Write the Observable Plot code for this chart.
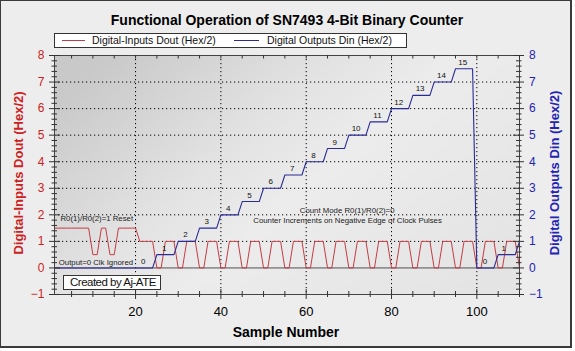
<!DOCTYPE html>
<html><head><meta charset="utf-8">
<script src="https://cdn.jsdelivr.net/npm/d3@7"></script>
<script src="https://cdn.jsdelivr.net/npm/@observablehq/plot@0.6"></script>
<style>
html,body{margin:0;padding:0;background:#fff;}
#wrap{position:relative;width:575px;height:351px;overflow:hidden;font-family:Arial,"Liberation Sans",sans-serif;}
#bgbox{position:absolute;left:0;top:0;width:569px;height:345px;border-style:solid;border-color:#3a3a3a;border-width:1px 2px 2px 1px;background:#ededed;}
#chart{position:absolute;left:0;top:0;}
.t{position:absolute;white-space:nowrap;line-height:1;}
#title{left:287px;top:13px;transform:translateX(-50%);font-weight:bold;font-size:14px;color:#000;}
#legend{left:54px;top:33px;width:351px;height:13px;border:1px solid #333;background:#fff;}
#legend .sw{position:absolute;top:6px;height:0;border-top:1px solid;}
#legend .lt{position:absolute;top:1px;font-size:10.5px;color:#111;white-space:nowrap;}
#ylabL{left:17.5px;top:173px;transform:translate(-50%,-50%) rotate(-90deg);font-weight:bold;font-size:13px;color:#cc2222;}
#ylabR{left:554px;top:173px;transform:translate(-50%,-50%) rotate(-90deg);font-weight:bold;font-size:13px;color:#2323b4;}
#xlab{left:286px;top:325px;transform:translateX(-50%);font-weight:bold;font-size:14px;color:#000;}
#credit{left:63px;top:275px;width:96px;height:13px;border:1px solid #333;background:#fff;font-size:11.5px;color:#111;}
#credit span{position:absolute;left:6px;top:1px;letter-spacing:-0.5px;}
</style>
</head><body>
<div id="wrap">
  <div id="bgbox"></div>
  <div id="chart"></div>
  <div class="t" id="title">Functional Operation of SN7493 4-Bit Binary Counter</div>
  <div class="t" id="legend">
    <span class="sw" style="left:7px;width:23px;border-color:#b8404a"></span>
    <span class="lt" style="left:37px">Digital-Inputs Dout (Hex/2)</span>
    <span class="sw" style="left:179px;width:25px;border-color:#2b2b8c"></span>
    <span class="lt" style="left:212px">Digital Outputs Din (Hex/2)</span>
  </div>
  <div class="t" id="ylabL">Digital-Inputs Dout (Hex/2)</div>
  <div class="t" id="ylabR">Digital Outputs Din (Hex/2)</div>
  <div class="t" id="xlab">Sample Number</div>
  <div class="t" id="credit"><span>Created by Aj-ATE</span></div>
</div>
<script>
// ---- data ----
const samples = d3.range(1, 111); // sample numbers 1..110

// Digital inputs Dout (Hex/2), one value per sample
const dout = [
  1.5,1.5,1.5,1.5,1.5,1.5,1.5,1.5,1.5, 0.5,0.5, 1.5,1.5, 0.5,0.5, 1.5,1.5,1.5,1.5,1.5,
  1,1,1,1,
  0,0,1,1,1, 0,0,1,1,1, 0,0,1,1,1, 0,0,1,1,1, 0,0,1,1,1,
  0,0,1,1,1, 0,0,1,1,1, 0,0,1,1,1, 0,0,1,1,1, 0,0,1,1,1,
  0,0,1,1,1, 0,0,1,1,1, 0,0,1,1,1, 0,0,1,1,1, 0,0,1,1,1,
  0,0,1,1,1, 0,0,1,1,1,
  0
];

// Digital outputs Din (Hex/2), one value per sample
const din = [
  0,0,0,0,0,0,0,0,0,0,0,0,0,0,0,0,0,0,0,0,0,0,0,0,
  0.5,0.5,0.5,0.5,0.5, 1,1,1,1,1, 1.5,1.5,1.5,1.5,1.5, 2,2,2,2,2,
  2.5,2.5,2.5,2.5,2.5, 3,3,3,3,3, 3.5,3.5,3.5,3.5,3.5, 4,4,4,4,4,
  4.5,4.5,4.5,4.5,4.5, 5,5,5,5,5, 5.5,5.5,5.5,5.5,5.5, 6,6,6,6,6,
  6.5,6.5,6.5,6.5,6.5, 7,7,7,7,7, 7.5,7.5,7.5,7.5,7.5,
  0,0,0,0,0, 0.5,0.5,0.5,0.5,0.5,
  1
];

// count labels on the output staircase
const countText   = ["0","1","2","3","4","5","6","7","8","9","10","11","12","13","14","15","0","1"];
const countSample = [21.8,26.7,31.7,36.7,41.7,46.7,51.7,56.7,61.7,66.7,71.7,76.7,81.7,86.7,91.7,96.7,101.9,106.3];
const countLevel  = [0,0.5,1,1.5,2,2.5,3,3.5,4,4.5,5,5.5,6,6.5,7,7.5,0,0.5];

// annotations (left-aligned ones, then centred ones)
const leftNoteText   = ["R0(1)/R0(2)=1 Reset", "Output=0 Clk Ignored"];
const leftNoteSample = [2.4, 2.0];
const leftNoteLevel  = [1.87, 0.22];
const midNoteText    = ["Count Mode R0(1)/R0(2)=0", "Counter Increments on Negative Edge of Clock Pulses"];
const midNoteSample  = [69.6, 69.7];
const midNoteLevel   = [2.18, 1.80];

// axes ticks
const xTicks = [20, 40, 60, 80, 100];
const yTicks = [-1, 0, 1, 2, 3, 4, 5, 6, 7, 8];
const yGrid  = [1, 2, 3, 4, 5, 6, 7];

// ---- build ----
const data = samples.map((s, i) => ({s, dout: dout[i], din: din[i]}));
const counts = countText.map((t, i) => ({t, s: countSample[i], v: countLevel[i]}));
const leftNotes = leftNoteText.map((t, i) => ({t, s: leftNoteSample[i], v: leftNoteLevel[i]}));
const midNotes = midNoteText.map((t, i) => ({t, s: midNoteSample[i], v: midNoteLevel[i]}));

const W = 575, H = 351, mL = 54, mR = 56, mT = 55, mB = 57;
const pw = W - mL - mR, ph = H - mT - mB;
const yMinor = d3.range(-1, 8.0001, 0.2).filter(v => Math.abs(v - Math.round(v)) > 1e-6);
const xMinor = d3.range(5, 111, 5).filter(v => v % 20 !== 0);
const xAll = d3.range(5, 111, 5);
const tickColor = "#333";

const chart = Plot.plot({
  width: W, height: H,
  marginLeft: mL, marginRight: mR, marginTop: mT, marginBottom: mB,
  style: {background: "transparent", fontFamily: "Arial, 'Liberation Sans', sans-serif", overflow: "visible"},
  x: {domain: [1, 110]},
  y: {domain: [-1, 8]},
  marks: [
    Plot.frame({fill: "url(#pbg)", stroke: "none"}),
    Plot.ruleY(yGrid, {y: d => d, stroke: "#000", strokeDasharray: "1.2,2.8", strokeWidth: 1}),
    Plot.ruleX(xTicks, {x: d => d, stroke: "#000", strokeDasharray: "1.2,2.8", strokeWidth: 1}),
    Plot.ruleY([0], {y: d => d, stroke: "#505050", strokeWidth: 1}),
    Plot.line(data, {x: "s", y: "dout", stroke: "#c43c44", strokeWidth: 1}),
    Plot.line(data, {x: "s", y: "din", stroke: "#2b2b96", strokeWidth: 1.1}),
    Plot.text(counts, {x: "s", y: "v", text: "t", dy: -6.5, fontSize: 8, fill: "#111"}),
    Plot.text(leftNotes, {x: "s", y: "v", text: "t", textAnchor: "start", fontSize: 7.8, fill: "#222"}),
    Plot.text(midNotes, {x: "s", y: "v", text: "t", textAnchor: "middle", fontSize: 7.8, fill: "#222"}),
    Plot.frame({stroke: "#444", strokeWidth: 1}),
    // left ticks
    Plot.tickY(yTicks, {y: d => d, insetLeft: -5, insetRight: pw - 6, stroke: tickColor}),
    Plot.tickY(yMinor, {y: d => d, insetLeft: -2.5, insetRight: pw - 3, stroke: tickColor}),
    // right ticks
    Plot.tickY(yTicks, {y: d => d, insetLeft: pw - 6, insetRight: -5, stroke: tickColor}),
    Plot.tickY(yMinor, {y: d => d, insetLeft: pw - 3, insetRight: -2.5, stroke: tickColor}),
    // bottom ticks
    Plot.tickX(xTicks, {x: d => d, insetTop: ph - 5, insetBottom: -5, stroke: tickColor}),
    Plot.tickX(xMinor, {x: d => d, insetTop: ph - 3, insetBottom: -3, stroke: tickColor}),
    // top ticks
    Plot.tickX(xAll, {x: d => d, insetTop: 0, insetBottom: ph - 3.5, stroke: tickColor}),
    Plot.axisY({anchor: "left", ticks: yTicks, tickSize: 0, tickPadding: 10, fontSize: 12, color: "#cc2222", label: null}),
    Plot.axisY({anchor: "right", ticks: yTicks, tickSize: 0, tickPadding: 9.5, fontSize: 12, color: "#2323b4", label: null}),
    Plot.axisX({anchor: "bottom", ticks: xTicks, tickSize: 0, tickPadding: 12, fontSize: 13, color: "#000", label: null})
  ]
});

d3.select(chart).insert("defs", ":first-child").html(`
  <linearGradient id="pbg" x1="0" y1="0.2" x2="1" y2="0.8">
    <stop offset="0" stop-color="#c9c9c9"/>
    <stop offset="0.35" stop-color="#e2e2e2"/>
    <stop offset="0.55" stop-color="#ececec"/>
    <stop offset="1" stop-color="#e4e4e4"/>
  </linearGradient>`);

document.getElementById("chart").appendChild(chart);
</script>
</body></html>
